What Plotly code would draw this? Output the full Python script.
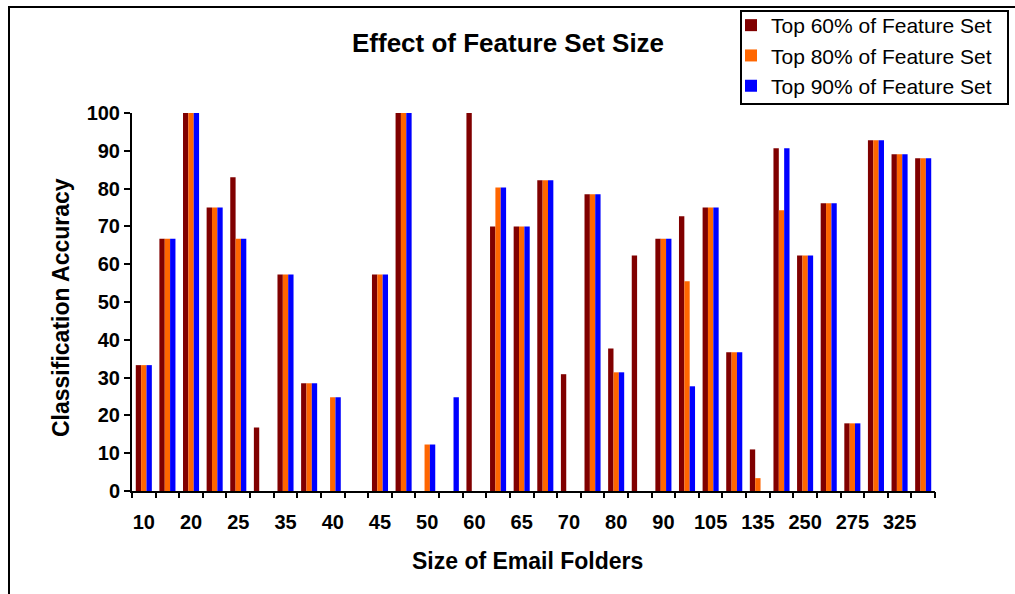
import plotly.graph_objects as go

# ---- data ----
tick_labels = ["10", "20", "25", "35", "40", "45", "50", "60", "65", "70",
               "80", "90", "105", "135", "250", "275", "325"]

top60 = [33.3, 66.7, 100, 75, 83.0, 16.8, 57.3, 28.5, 0, 0, 57.3, 100, 0, 0,
         100, 70.0, 70.0, 82.2, 30.9, 78.5, 37.7, 62.3, 66.7, 72.7, 75.0, 36.7,
         11.0, 90.7, 62.3, 76.1, 17.9, 92.8, 89.1, 88.0]
top80 = [33.3, 66.7, 100, 75, 66.7, 0, 57.3, 28.5, 24.8, 0, 57.3, 100, 12.3, 0,
         0, 80.3, 70.0, 82.2, 0, 78.5, 31.4, 0, 66.7, 55.5, 75.0, 36.7,
         3.4, 74.3, 62.3, 76.1, 17.9, 92.8, 89.1, 88.0]
top90 = [33.3, 66.7, 100, 75, 66.7, 0, 57.3, 28.5, 24.8, 0, 57.3, 100, 12.3, 24.8,
         0, 80.3, 70.0, 82.2, 0, 78.5, 31.4, 0, 66.7, 27.7, 75.0, 36.7,
         0, 90.7, 62.3, 76.1, 17.9, 92.8, 89.1, 88.0]

series_names = ["Top 60% of Feature Set", "Top 80% of Feature Set", "Top 90% of Feature Set"]
series_values = [top60, top80, top90]
colors = ["#800000", "#FF6600", "#0000FF"]

n = len(top60)
xs = list(range(n))
label_positions = xs[::2][:len(tick_labels)]
boundaries = [i - 0.5 for i in range(n + 1)]

FONT = "Liberation Sans, Arial, sans-serif"

fig = go.Figure()
for name, vals, col in zip(series_names, series_values, colors):
    fig.add_trace(go.Bar(x=xs, y=vals, name=name, marker=dict(color=col, line=dict(width=0)),
                         xaxis="x", yaxis="y"))

# invisible trace to carry boundary tick marks on a second x axis
fig.add_trace(go.Scatter(x=[boundaries[0], boundaries[-1]], y=[0, 0], xaxis="x2", yaxis="y",
                         mode="lines", line=dict(width=0), showlegend=False, hoverinfo="skip"))

W, H = 1015, 594
L, R, T, B = 132, 80, 113, 103
pw, ph = W - L - R, H - T - B

def px(xpix):
    return (xpix - L) / pw

def py(ypix):
    return (H - B - ypix) / ph

fig.update_layout(
    width=W, height=H,
    margin=dict(l=L, r=R, t=T, b=B, pad=0, autoexpand=False),
    paper_bgcolor="white", plot_bgcolor="white",
    barmode="group", bargap=0.32, bargroupgap=0,
    font=dict(family=FONT, color="black"),
    xaxis=dict(range=[-0.5, n - 0.5], tickmode="array", tickvals=label_positions,
               ticktext=tick_labels, ticks="", showgrid=False, zeroline=False,
               showline=True, linecolor="black", linewidth=2,
               tickfont=dict(size=20, weight="bold", family=FONT), ticklabelstandoff=12),
    xaxis2=dict(overlaying="x", anchor="y", side="bottom", range=[-0.5, n - 0.5],
                tickmode="array", tickvals=boundaries, ticks="outside", ticklen=6,
                tickwidth=2, tickcolor="black", showticklabels=False, showgrid=False,
                zeroline=False, showline=False),
    yaxis=dict(range=[0, 100], tickmode="linear", tick0=0, dtick=10, ticks="outside",
               ticklen=6, tickwidth=2, tickcolor="black", showgrid=False, zeroline=False,
               showline=True, linecolor="black", linewidth=2,
               tickfont=dict(size=20, weight="bold", family=FONT)),
    legend=dict(xref="container", yref="container", x=731 / W, y=1 - 5 / H,
                xanchor="left", yanchor="top",
                borderwidth=0, bgcolor="rgba(0,0,0,0)",
                font=dict(size=21, family=FONT), tracegroupgap=0, itemwidth=30),
    showlegend=True,
)

fig.add_annotation(text="<b>Effect of Feature Set Size</b>", x=px(508), y=py(43),
                   xref="paper", yref="paper", showarrow=False, xanchor="center",
                   yanchor="middle", font=dict(size=26, family=FONT))
fig.add_annotation(text="<b>Size of Email Folders</b>", x=px(527), y=py(561),
                   xref="paper", yref="paper", showarrow=False, xanchor="center",
                   yanchor="middle", font=dict(size=23, family=FONT))
fig.add_annotation(text="<b>Classification Accuracy</b>", x=px(61), y=py(308),
                   xref="paper", yref="paper", showarrow=False, xanchor="center",
                   yanchor="middle", textangle=-90, font=dict(size=23, family=FONT))

# legend frame
fig.add_shape(type="rect", xref="paper", yref="paper", x0=px(741), y0=py(104),
              x1=px(1008), y1=py(11), line=dict(color="black", width=2),
              fillcolor="rgba(0,0,0,0)", layer="above")

# outer chart border (extends beyond the visible window at right/bottom)
fig.add_shape(type="rect", xref="paper", yref="paper", x0=px(9), y0=py(700),
              x1=px(1200), y1=py(7), line=dict(color="black", width=2),
              fillcolor="rgba(0,0,0,0)", layer="above")

fig.write_html("out.html")
